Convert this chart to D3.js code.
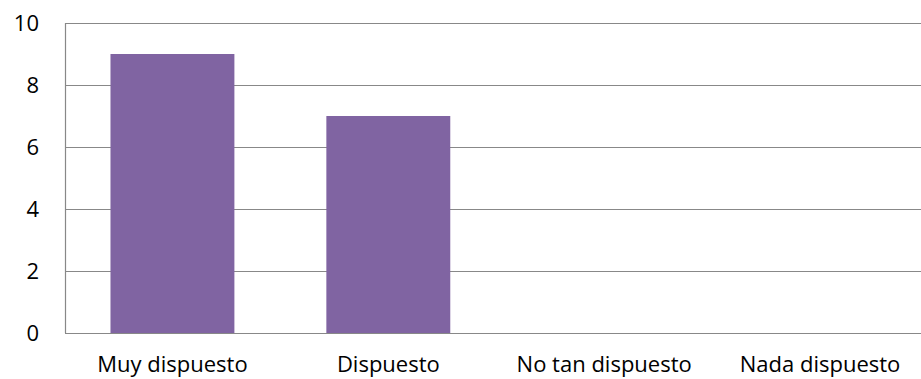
<!DOCTYPE html>
<html>
<head>
<meta charset="utf-8">
<script src="https://cdn.jsdelivr.net/npm/d3@7"></script>
<style>
  body { margin: 0; background: #fff; }
  text { font-family: "Open Sans", sans-serif; fill: #000; }
</style>
</head>
<body>
<div id="chart"></div>
<script>
// Data
const categories = ['Muy dispuesto', 'Dispuesto', 'No tan dispuesto', 'Nada dispuesto'];
const values = [9, 7, 0, 0];
const yTicks = [0, 2, 4, 6, 8, 10];

const width = 921;
const height = 379;
// plot runs a little past the right edge of the window, as in the reference
const plotLeft = 65, plotRight = 928, plotTop = 23, plotBottom = 333;

const svg = d3.select('#chart').append('svg')
  .attr('width', width)
  .attr('height', height);

const x = d3.scaleBand()
  .domain(categories)
  .range([plotLeft - 0.5, plotRight])
  .paddingInner(0.426)
  .paddingOuter(0.213);

const y = d3.scaleLinear()
  .domain([0, 10])
  .range([plotBottom, plotTop]);

// Gridlines
svg.append('g')
  .selectAll('line')
  .data(yTicks)
  .enter().append('line')
  .attr('x1', plotLeft)
  .attr('x2', width)
  .attr('y1', d => Math.round(y(d)) + 0.5)
  .attr('y2', d => Math.round(y(d)) + 0.5)
  .attr('stroke', '#888')
  .attr('stroke-width', 1.2);

// Left axis line
svg.append('line')
  .attr('x1', plotLeft + 0.5)
  .attr('x2', plotLeft + 0.5)
  .attr('y1', y(10))
  .attr('y2', y(0))
  .attr('stroke', '#888')
  .attr('stroke-width', 1.2);

// Bars
svg.append('g')
  .selectAll('rect')
  .data(values)
  .enter().append('rect')
  .attr('x', (d, i) => x(categories[i]))
  .attr('width', x.bandwidth())
  .attr('y', d => y(d))
  .attr('height', d => y(0) - y(d))
  .attr('fill', '#8064A2');

// Y tick labels
svg.append('g')
  .selectAll('text')
  .data(yTicks)
  .enter().append('text')
  .attr('x', 39)
  .attr('y', d => y(d))
  .attr('dy', '0.36em')
  .attr('text-anchor', 'end')
  .style('font-size', '22px')
  .text(d => d);

// X labels
svg.append('g')
  .selectAll('text')
  .data(categories)
  .enter().append('text')
  .attr('x', d => x(d) + x.bandwidth() / 2)
  .attr('y', 372)
  .attr('text-anchor', 'middle')
  .style('font-size', '22px')
  .text(d => d);
</script>
</body>
</html>
